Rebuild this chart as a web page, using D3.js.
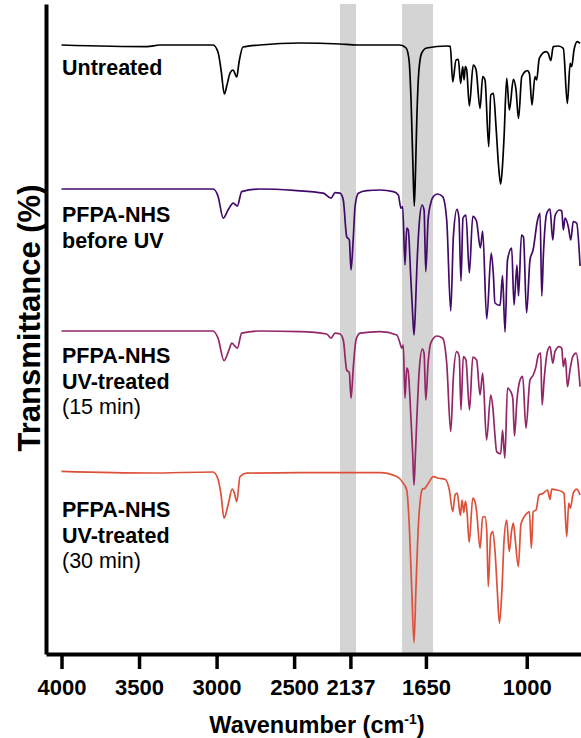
<!DOCTYPE html>
<html>
<head>
<meta charset="utf-8">
<script src="https://cdn.jsdelivr.net/npm/d3@7"></script>
<style>
  body { margin: 0; background: #fff; }
  text { font-family: "Liberation Sans", Arial, Helvetica, sans-serif; }
</style>
</head>
<body>
<div id="chart"></div>
<script>
// FTIR spectra, values as [wavenumber, transmittance]
const untreated = [
  [4000,100],[3449,99.2],[3365,100],[3023,100],[2991,96.5],[2971,87.5],[2950,75.5],[2933,80],[2913,86],
  [2894,87.5],[2870,84],[2855,91.5],[2830,99],[2720,100],[2462,101],[2204,100.5],[2094,100],[1817,100],
  [1778,98.5],[1759,92.5],[1746,72.5],[1733,37.5],[1725,19.5],[1717,37.5],[1709,62.5],[1695,87.5],[1677,96],
  [1645,98.5],[1516,99.5],[1493,99.3],[1477,81.6],[1456,92.5],[1441,92.8],[1426,80.8],[1413,89.2],[1404,82.5],
  [1396,89.2],[1387,87.5],[1370,69.5],[1345,90],[1327,87.8],[1301,68.3],[1284,84.2],[1269,82.5],[1245,49.2],
  [1232,75],[1215,75.8],[1198,59.2],[1182,40],[1168,30.5],[1156,40],[1146,54.2],[1129,83.3],[1112,67.5],
  [1086,82.8],[1069,77.5],[1053,63.3],[1032,84.2],[996,87.2],[983,85.8],[966,70],[947,84.2],[936,82.5],
  [919,93.3],[876,96.7],[861,95.8],[845,92.2],[829,99.2],[796,99.5],[764,98.3],[738,70.8],[720,90.8],
  [710,89.2],[695,97.5],[674,101.7],[656,100.8]
]
const beforeUV = [
  [4000,100],[3023,100],[2991,96.5],[2957,85.4],[2926,89.5],[2892,92.9],[2866,91.5],[2838,98.7],[2720,100],
  [2501,99.3],[2312,97.9],[2262,95.4],[2236,98.2],[2204,97.9],[2183,94.5],[2161,76.2],[2144,74.5],[2133,59.5],
  [2118,76.2],[2107,91.2],[2086,97.9],[2032,99.2],[1946,99.5],[1860,98.7],[1828,97],[1811,90.4],[1800,91.2],
  [1785,62],[1774,80.4],[1764,79.5],[1748,56.2],[1737,39.5],[1727,27],[1718,39.5],[1709,59.5],[1693,82.9],
  [1675,92],[1662,89.5],[1651,58.7],[1636,84.5],[1619,92.9],[1602,96.2],[1576,97.5],[1542,96.2],[1516,84.5],
  [1490,39],[1473,76.2],[1450,89.8],[1437,85.5],[1424,54],[1411,85.5],[1392,87],[1370,58],[1348,86.3],
  [1324,84],[1299,70.5],[1284,79],[1258,35],[1229,68],[1215,57],[1205,43],[1172,41.8],[1156,56.7],[1140,28.5],
  [1124,64.5],[1097,70.4],[1082,42],[1063,62],[1053,46.5],[1034,77],[1021,76],[1001,38],[979,64.5],[959,69.5],
  [930,84.5],[914,87.8],[903,46.5],[892,68],[871,87.8],[850,90],[832,74.5],[818,86.5],[790,89.5],[774,89],
  [764,79.5],[753,85.5],[732,81.2],[716,74.5],[700,83.7],[678,82.9],[656,61.5]
]
const uv15 = [
  [4000,100],[3023,100],[2991,96.5],[2952,85.2],[2920,90.5],[2902,93.9],[2866,91.4],[2838,98.9],[2720,100],
  [2462,99.7],[2290,98.5],[2262,96.4],[2236,98.9],[2204,98.5],[2183,95.5],[2161,80.5],[2144,79.2],[2133,66.4],
  [2118,82.2],[2101,95.5],[2075,98.9],[1946,99.7],[1838,98],[1817,93.9],[1806,91.4],[1796,93],[1785,66.4],
  [1774,81.4],[1766,80.5],[1746,55.5],[1735,38],[1727,23],[1718,38],[1709,55.5],[1693,80.5],[1673,90.9],
  [1662,88.9],[1651,65.5],[1636,83.9],[1619,93.9],[1580,97.5],[1542,96.4],[1516,83.9],[1490,49.7],[1473,77.2],
  [1452,89.7],[1435,87.2],[1424,60.5],[1409,87.2],[1392,85.5],[1369,60.5],[1348,86.9],[1323,85.5],[1301,68],
  [1284,78.9],[1259,45.5],[1232,68],[1219,62.2],[1205,48],[1194,39.7],[1168,38.5],[1156,50.5],[1141,36.4],
  [1124,71.4],[1103,69.7],[1090,66.4],[1079,47.5],[1063,65.5],[1043,75.5],[1026,77.3],[1005,51.4],[979,75.5],
  [958,78],[940,82.2],[925,88],[910,88.9],[901,63],[887,76.4],[867,89.7],[850,92.2],[832,83.9],[818,89.7],
  [790,92.2],[774,91.4],[764,82.2],[751,86.4],[737,72.2],[721,80.5],[703,87.2],[682,88.9],[656,72.2]
]
const uv30 = [
  [4000,99.8],[3429,99],[3023,99.5],[2991,96],[2971,88],[2952,76.4],[2926,83],[2899,90.9],[2886,89.2],
  [2870,84.7],[2849,97.2],[2806,98.9],[2462,99.2],[2172,99.2],[1946,99.2],[1838,97.2],[1796,93.9],[1774,90.5],
  [1757,72.2],[1742,42.2],[1727,14.2],[1714,42.2],[1699,72.2],[1684,87.2],[1673,90.9],[1656,91.4],[1634,93.9],
  [1602,97.2],[1570,96.4],[1527,95.9],[1499,90.5],[1477,79.7],[1462,88],[1448,88.9],[1428,77.8],[1417,85.5],
  [1406,79.3],[1395,85],[1386,80.5],[1371,64.3],[1348,86.4],[1334,84.7],[1323,79.7],[1301,61.4],[1284,77],
  [1269,77.2],[1258,70.5],[1248,42.2],[1232,68],[1219,69.7],[1205,60.5],[1190,40.5],[1176,23.9],[1161,38.9],
  [1146,65.5],[1129,75.5],[1113,59.7],[1097,70.5],[1086,73.9],[1075,66.4],[1054,52.2],[1037,73.5],[998,78.9],
  [983,79.7],[970,61.4],[958,79.7],[940,80.5],[921,88],[893,88.9],[866,90.5],[850,85.8],[839,90.9],[807,90.5],
  [774,89.7],[760,88.9],[742,67.2],[729,83.9],[719,81.4],[700,88.9],[678,90.9],[656,88]
]

const seriesData = [untreated, beforeUV, uv15, uv30]
const offsets = [200, 128, 57, -13]      // vertical stacking of the spectra
const colors = ["#000004", "#420a68", "#932667", "#dd513a"]
const seriesLabels = [
  [["Untreated", "bold"]],
  [["PFPA-NHS", "bold"], ["before UV", "bold"]],
  [["PFPA-NHS", "bold"], ["UV-treated", "bold"], ["(15 min)", "normal"]],
  [["PFPA-NHS", "bold"], ["UV-treated", "bold"], ["(30 min)", "normal"]]
]
const tickValues = [4000, 3500, 3000, 2500, 2137, 1650, 1000]
const bands = [[2204, 2101], [1804, 1604]]

const W = 581, H = 738
const svg = d3.select("#chart").append("svg")
  .attr("width", W).attr("height", H)

const x = d3.scaleLinear().domain([4100, 650]).range([46, 581])
const y = d3.scaleLinear().domain([-4.5, 320.5]).range([654, 4])

// highlighted regions
svg.selectAll("rect.band")
  .data(bands)
  .enter().append("rect")
    .attr("class", "band")
    .attr("x", d => x(d[0]))
    .attr("width", d => x(d[1]) - x(d[0]))
    .attr("y", y.range()[1])
    .attr("height", y.range()[0] - y.range()[1])
    .attr("fill", "#d4d4d4")

// spectra
const line = d3.line()
  .x(d => x(d[0]))
  .curve(d3.curveMonotoneX)

seriesData.forEach((s, i) => {
  svg.append("path")
    .datum(s)
    .attr("fill", "none")
    .attr("stroke", colors[i])
    .attr("stroke-width", 1.7)
    .attr("stroke-linejoin", "round")
    .attr("d", line.y(d => y(d[1] + offsets[i])))
})

// series labels
const labelTop = [75, 222, 363, 517]
seriesLabels.forEach((lines, i) => {
  const t = svg.append("text")
    .attr("x", 62)
    .attr("y", labelTop[i])
    .attr("font-size", "21.5px")
  lines.forEach((l, j) => {
    t.append("tspan")
      .attr("x", 62)
      .attr("dy", j == 0 ? 0 : 25.5)
      .attr("font-weight", l[1])
      .text(l[0])
  })
})

// axes
const xAxis = svg.append("g")
  .attr("transform", `translate(0,${y.range()[0]})`)
  .call(d3.axisBottom(x).tickValues(tickValues).tickSize(15).tickSizeOuter(0).tickPadding(10).tickFormat(d => d))
xAxis.select(".domain").attr("stroke-width", 4)
xAxis.selectAll(".tick line").attr("stroke-width", 3.5)
xAxis.selectAll("text")
  .attr("font-size", "22px")
  .attr("font-weight", "bold")
  .attr("font-family", "Liberation Sans, Arial, sans-serif")
  .attr("fill", "#000")

const yAxis = svg.append("g")
  .attr("transform", `translate(${x.range()[0]},0)`)
  .call(d3.axisLeft(y).tickValues([]).tickSizeOuter(0))
yAxis.select(".domain").attr("stroke-width", 4)

// axis titles
const xt = svg.append("text")
  .attr("x", 317).attr("y", 733)
  .attr("text-anchor", "middle")
  .attr("font-size", "23.5px")
  .attr("font-weight", "bold")
xt.append("tspan").text("Wavenumber (cm")
xt.append("tspan").attr("font-size", "14px").attr("dy", -9).text("-1")
xt.append("tspan").attr("dy", 9).text(")")

svg.append("text")
  .attr("transform", "translate(40,318) rotate(-90)")
  .attr("text-anchor", "middle")
  .attr("font-size", "31px")
  .attr("font-weight", "bold")
  .text("Transmittance (%)")
</script>
</body>
</html>
